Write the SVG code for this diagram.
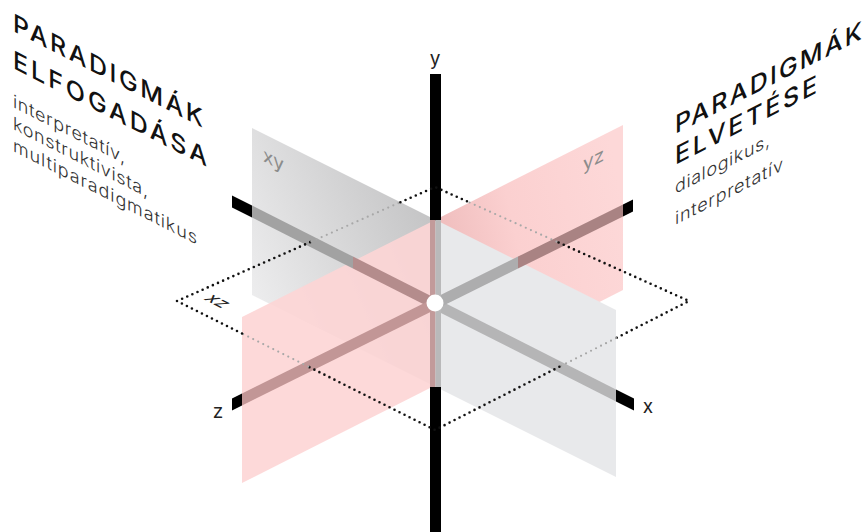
<svg xmlns="http://www.w3.org/2000/svg" width="864" height="532" viewBox="0 0 864 532">
<style>
.title{font-family:"Inter","Liberation Sans",sans-serif;font-weight:500;font-size:25px;fill:#111}
.sub{font-family:"Inter","Liberation Sans",sans-serif;font-weight:300;font-size:18px;fill:#333}
.ax{font-family:"Inter","Liberation Sans",sans-serif;font-size:19px;fill:#222;text-anchor:middle}
.pl{font-family:"Inter","Liberation Sans",sans-serif;font-size:19px;fill:#8c8c8c}
.dot{fill:none;stroke:#111;stroke-width:2.6;stroke-linecap:round;stroke-dasharray:0 5.6}
.dotg{fill:none;stroke:#a8a8a8;stroke-width:2.2;stroke-linecap:round;stroke-dasharray:0 5.6}
</style>
<defs>
<linearGradient id="gGrey" gradientUnits="userSpaceOnUse" x1="252" y1="300" x2="435" y2="220">
<stop offset="0" stop-color="#ededee"/><stop offset="1" stop-color="#c4c4c5"/>
</linearGradient>
<linearGradient id="gPink" gradientUnits="userSpaceOnUse" x1="440" y1="240" x2="623" y2="200">
<stop offset="0" stop-color="#efbdbd"/><stop offset="0.4" stop-color="#fbd0d0"/><stop offset="1" stop-color="#fdd8d8"/>
</linearGradient>
</defs>
<rect width="864" height="532" fill="#fff"/>
<g id="plane-xy-back"><polygon points="252,128 435,219.5 435,386.5 252,295" fill="url(#gGrey)"/></g>
<g id="plane-yz-back"><polygon points="435,220 623,125 623,290 435,385.5" fill="url(#gPink)"/></g>
<g id="plane-yz-front"><polygon points="242,317 435,220 435,385.5 242,483" fill="#fdd5d5" fill-opacity="0.9"/></g>
<g id="plane-xy-front"><polygon points="435,219.5 616,310 616,477 435,386.5" fill="#e8e9eb"/></g>
<g id="connectors">
<g id="axis-x">
<polygon points="232,195.5 252,205.6 252,217.6 232,207.5" fill="#000"/>
<polygon points="252,205.6 353,256.6 353,268.6 252,217.6" fill="#a2a2a2"/>
<polygon points="353,256.6 435,298 435,310 353,268.6" fill="#b48c8c"/>
<polygon points="435,298 616,389.4 616,401.4 435,310" fill="#b5b5b6"/>
<polygon points="616,389.4 634,398.5 634,410.5 616,401.4" fill="#000"/>
</g>
<g id="axis-z">
<polygon points="232,398.5 242,393.5 242,405.5 232,410.5" fill="#000"/>
<polygon points="242,393.5 435,297.8 435,309.8 242,405.5" fill="#c29696"/>
<polygon points="435,297.8 518,256.6 518,268.6 435,309.8" fill="#adadae"/>
<polygon points="518,256.6 623,204.5 623,216.5 518,268.6" fill="#a98383"/>
<polygon points="623,204.5 633,199.5 633,211.5 623,216.5" fill="#000"/>
</g>
<g id="axis-y">
<rect x="430" y="74" width="11" height="146.5" fill="#000"/>
<rect x="430" y="220" width="5.5" height="167" fill="#c29a9a"/>
<rect x="435.5" y="220" width="5.5" height="167" fill="#b9b9ba"/>
<rect x="430" y="387" width="11" height="145" fill="#000"/>
</g>
<g id="plane-xz">
<polyline class="dot" points="177,301 311.4,241.6"/>
<polyline class="dotg" points="311.4,241.6 400.4,202.2"/>
<polyline class="dot" points="400.4,202.2 435,187 469.6,202.5"/>
<polyline class="dotg" points="469.6,202.5 558.6,242.5"/>
<polyline class="dot" points="558.6,242.5 689,301 616,338.1"/>
<polyline class="dotg" points="616,338.1 559.4,366.8"/>
<polyline class="dot" points="559.4,366.8 435,430 308.3,366.6"/>
<polyline class="dotg" points="308.3,366.6 242,333.5"/>
<polyline class="dot" points="242,333.5 177,301"/>
</g>
</g>
<g id="origin"><circle cx="435" cy="303" r="8.5" fill="#fff"/></g>
<g id="labels">
<text class="ax" x="435" y="65">y</text>
<text class="ax" x="648" y="413">x</text>
<text class="ax" x="218" y="418">z</text>
<text class="pl" transform="translate(263,0) skewY(27)" x="0" y="161">xy</text>
<text class="pl" transform="translate(583,0) skewY(-27)" x="0" y="171">yz</text>
<text class="pl" style="fill:#222" transform="matrix(0.894,0.447,-0.894,0.447,203,299)" x="0" y="0" font-size="21">xz</text>
</g>
<g id="title-left" transform="translate(13,0) skewY(27)">
<text class="title" x="0" y="31" textLength="190" lengthAdjust="spacing">PARADIGMÁK</text>
<text class="title" x="0" y="68" textLength="194" lengthAdjust="spacing">ELFOGADÁSA</text>
<text class="sub" x="0" y="107" textLength="112" lengthAdjust="spacing">interpretatív,</text>
<text class="sub" x="0" y="129" textLength="135" lengthAdjust="spacing">konstruktivista,</text>
<text class="sub" x="0" y="151" textLength="184" lengthAdjust="spacing">multiparadigmatikus</text>
</g>
<g id="title-right" transform="translate(675,0) skewY(-27)">
<text class="title" x="0" y="134" textLength="187" lengthAdjust="spacing">PARADIGMÁK</text>
<text class="title" x="0" y="165" textLength="142" lengthAdjust="spacing">ELVETÉSE</text>
<text class="sub" x="0" y="194" textLength="95" lengthAdjust="spacing">dialogikus,</text>
<text class="sub" x="0" y="225" textLength="108" lengthAdjust="spacing">interpretatív</text>
</g>
</svg>
